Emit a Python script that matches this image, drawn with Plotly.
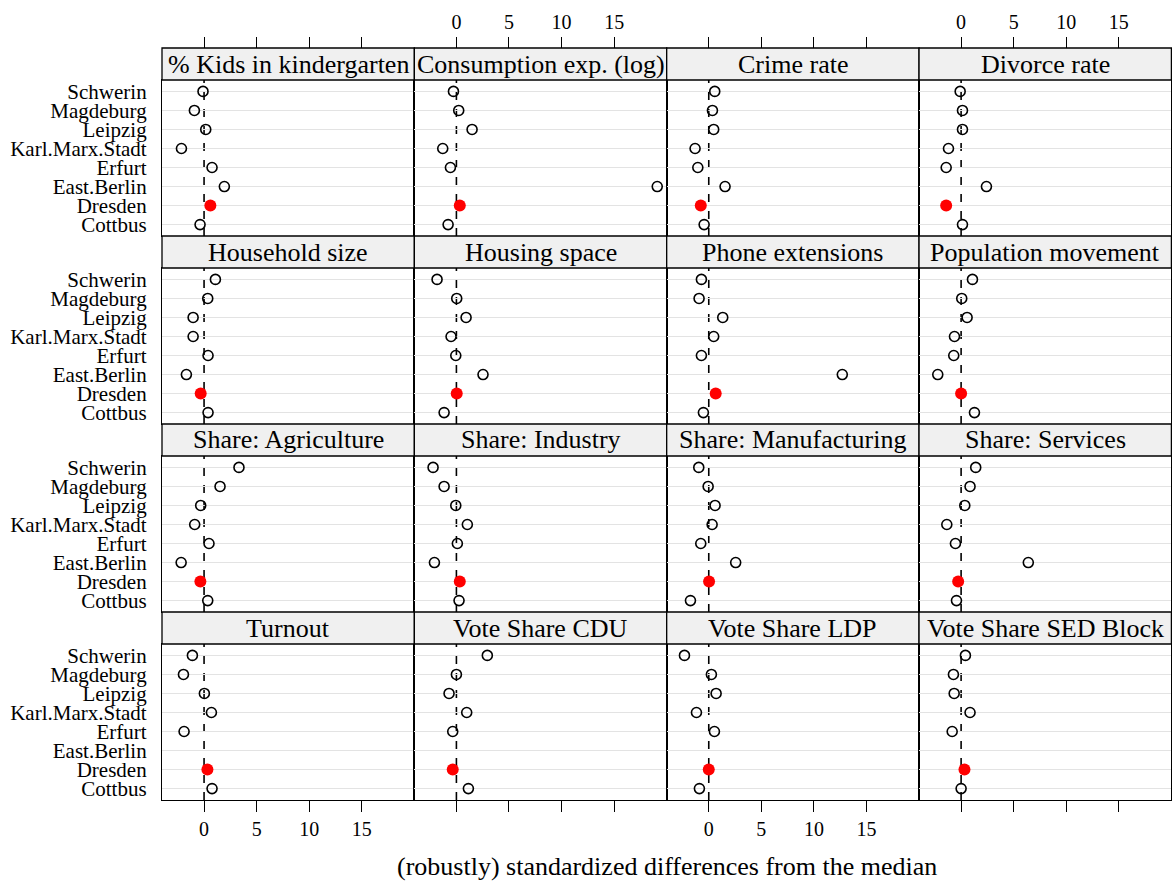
import plotly.graph_objects as go

# Districts, listed top to bottom as they appear in each panel
cities = ["Schwerin", "Magdeburg", "Leipzig", "Karl.Marx.Stadt",
          "Erfurt", "East.Berlin", "Dresden", "Cottbus"]
highlight = "Dresden"

# Robustly standardized differences from the median, one list per indicator
kids_kindergarten = [-0.10, -0.92, 0.16, -2.15, 0.76, 1.93, 0.60, -0.38]
consumption_log = [-0.28, 0.22, 1.49, -1.30, -0.57, 19.10, 0.32, -0.79]
crime_rate = [0.57, 0.35, 0.47, -1.30, -1.04, 1.55, -0.76, -0.44]
divorce_rate = [-0.09, 0.13, 0.13, -1.20, -1.42, 2.41, -1.42, 0.13]
household_size = [1.08, 0.35, -1.04, -1.04, 0.38, -1.68, -0.32, 0.38]
housing_space = [-1.84, 0.03, 0.92, -0.51, -0.06, 2.53, 0.03, -1.17]
phone_extensions = [-0.70, -0.92, 1.33, 0.47, -0.70, 12.70, 0.66, -0.51]
population_movement = [1.08, 0.06, 0.57, -0.63, -0.70, -2.22, 0.00, 1.27]
share_agriculture = [3.32, 1.52, -0.32, -0.89, 0.47, -2.18, -0.35, 0.35]
share_industry = [-2.22, -1.17, -0.06, 1.04, 0.09, -2.09, 0.32, 0.25]
share_manufacturing = [-0.95, -0.06, 0.60, 0.32, -0.76, 2.56, 0.03, -1.74]
share_services = [1.39, 0.85, 0.35, -1.36, -0.54, 6.39, -0.28, -0.44]
turnout = [-1.11, -1.96, 0.03, 0.70, -1.90, None, 0.32, 0.76]
vote_cdu = [2.94, 0.00, -0.70, 0.98, -0.35, None, -0.35, 1.14]
vote_ldp = [-2.31, 0.25, 0.70, -1.17, 0.54, None, 0.00, -0.89]
vote_sed = [0.41, -0.73, -0.66, 0.85, -0.85, None, 0.32, 0.00]

panel_titles = ["% Kids in kindergarten", "Consumption exp. (log)", "Crime rate",
                "Divorce rate", "Household size", "Housing space",
                "Phone extensions", "Population movement", "Share: Agriculture",
                "Share: Industry", "Share: Manufacturing", "Share: Services",
                "Turnout", "Vote Share CDU", "Vote Share LDP", "Vote Share SED Block"]
panel_values = [kids_kindergarten, consumption_log, crime_rate, divorce_rate,
                household_size, housing_space, phone_extensions, population_movement,
                share_agriculture, share_industry, share_manufacturing, share_services,
                turnout, vote_cdu, vote_ldp, vote_sed]

x_ticks = [0, 5, 10, 15]
x_range = [-4, 20]

# Page geometry (pixels)
W, H = 1172, 886
LEFT, RIGHT = 162, 1171.4
TOP, CELL_H, STRIP_H = 48, 188, 32
NCOL, NROW = 4, 4
COL_W = (RIGHT - LEFT) / NCOL

FONT = "Liberation Serif"
LINE_W = 1.3

fig = go.Figure()
layout = dict(
    width=W, height=H,
    margin=dict(l=0, r=0, t=0, b=0),
    paper_bgcolor="white", plot_bgcolor="white",
    showlegend=False,
    font=dict(family=FONT, color="black"),
)
shapes = []
annotations = []

for i, (title, vals) in enumerate(zip(panel_titles, panel_values)):
    r, c = divmod(i, NCOL)
    n = i + 1
    xs = "" if n == 1 else str(n)
    x0 = LEFT + COL_W * c
    x1 = x0 + COL_W
    s_top = TOP + CELL_H * r
    s_bot = s_top + STRIP_H
    p_bot = s_top + CELL_H

    # open circles for every district, filled red dot for the highlighted one
    other_x = [v for v, city in zip(vals, cities) if city != highlight]
    other_y = [city for city in cities if city != highlight]
    hl_x = [v for v, city in zip(vals, cities) if city == highlight]
    hl_y = [highlight]
    fig.add_trace(go.Scatter(
        x=other_x, y=other_y, mode="markers",
        xaxis="x" + xs, yaxis="y" + xs,
        marker=dict(symbol="circle-open", size=10, color="black",
                    line=dict(width=1.6, color="black")),
        cliponaxis=False,
    ))
    fig.add_trace(go.Scatter(
        x=hl_x, y=hl_y, mode="markers",
        xaxis="x" + xs, yaxis="y" + xs,
        marker=dict(symbol="circle", size=12, color="#ff0000",
                    line=dict(width=0)),
        cliponaxis=False,
    ))

    bottom_row = r == NROW - 1
    layout["xaxis" + xs] = dict(
        domain=[x0 / W, x1 / W], range=x_range, anchor="y" + xs,
        showgrid=False, zeroline=False,
        showline=True, mirror=True, linecolor="black", linewidth=LINE_W,
        tickvals=x_ticks, ticks="outside" if bottom_row else "",
        ticklen=11, tickwidth=1.4, tickcolor="black",
        side="bottom",
        showticklabels=bottom_row and c in (0, 2),
        tickfont=dict(family=FONT, size=20, color="black"),
        fixedrange=True,
    )
    layout["yaxis" + xs] = dict(
        domain=[1 - p_bot / H, 1 - s_bot / H], anchor="x" + xs,
        type="category", categoryorder="array", categoryarray=cities[::-1],
        tickmode="array", tickvals=cities, ticktext=cities,
        range=[-0.6, len(cities) - 0.4],
        showgrid=True, gridcolor="#e3e3e3", gridwidth=1.4,
        zeroline=False,
        showline=True, mirror=True, linecolor="black", linewidth=LINE_W,
        ticks="", showticklabels=(c == 0), ticklabelstandoff=10,
        tickfont=dict(family=FONT, size=21, color="black"),
        fixedrange=True,
    )

    # top axis above the strip of the first row
    if r == 0:
        tn = str(NCOL * NROW + c + 1)
        layout["xaxis" + tn] = dict(
            overlaying="x" + xs, anchor="free", position=1 - s_top / H,
            side="top", range=x_range, showgrid=False, zeroline=False,
            showline=False, tickvals=x_ticks, ticks="outside",
            ticklen=11, tickwidth=1.4, tickcolor="black",
            showticklabels=c in (1, 3),
            tickfont=dict(family=FONT, size=20, color="black"),
            fixedrange=True,
        )
        fig.add_trace(go.Scatter(x=[], y=[], mode="markers",
                                 xaxis="x" + tn, yaxis="y" + xs,
                                 hoverinfo="skip"))

    # dashed reference line at zero
    shapes.append(dict(
        type="line", xref="x" + xs, yref="y" + xs + " domain",
        x0=0, x1=0, y0=0, y1=1, layer="below",
        line=dict(color="black", width=1.6, dash="8px,9px"),
    ))
    # strip header
    shapes.append(dict(
        type="rect", xref="paper", yref="paper",
        x0=x0 / W, x1=x1 / W, y0=1 - s_bot / H, y1=1 - s_top / H,
        fillcolor="#f0f0f0", line=dict(color="black", width=LINE_W), layer="above",
    ))
    annotations.append(dict(
        text=title, xref="paper", yref="paper",
        x=(x0 + x1) / 2 / W, y=1 - (s_top + s_bot) / 2 / H,
        xanchor="center", yanchor="middle", showarrow=False,
        font=dict(family=FONT, size=26, color="black"),
    ))

annotations.append(dict(
    text="(robustly) standardized differences from the median",
    xref="paper", yref="paper",
    x=(LEFT + RIGHT) / 2 / W, y=1 - 866 / H,
    xanchor="center", yanchor="middle", showarrow=False,
    font=dict(family=FONT, size=26, color="black"),
))

layout["shapes"] = shapes
layout["annotations"] = annotations
fig.update_layout(**layout)
fig.write_html("out.html")
